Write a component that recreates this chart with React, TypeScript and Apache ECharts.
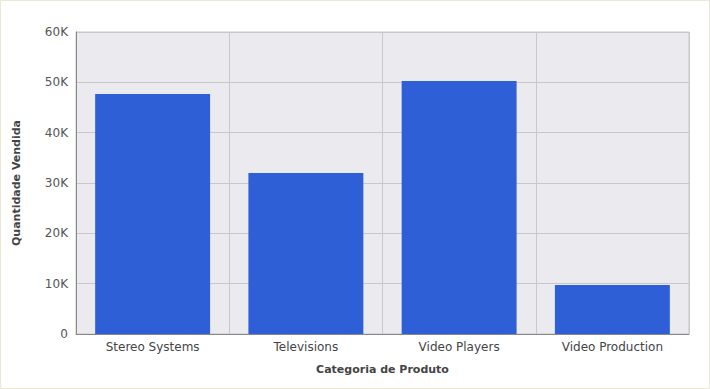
import React, { useEffect, useRef } from "react";
import * as echarts from "echarts";

const categories = ["Stereo Systems", "Televisions", "Video Players", "Video Production"];
const quantities = [47700, 32000, 50250, 9750];
const yTicks = { min: 0, max: 60000, interval: 10000 };
const xTitle = "Categoria de Produto";
const yTitle = "Quantidade Vendida";

const FONT = "'DejaVu Sans', Verdana, sans-serif";

export default function App() {
  const ref = useRef<HTMLDivElement>(null);
  useEffect(() => {
    if (!ref.current) return;
    const chart = echarts.init(ref.current, null, { renderer: "svg" });
    chart.setOption({
      animation: false,
      backgroundColor: "#ffffff",
      textStyle: { fontFamily: FONT },
      grid: {
        left: 76,
        right: 21,
        top: 32,
        bottom: 55,
        containLabel: false,
        outerBoundsMode: "none",
        show: true,
        backgroundColor: "#eaeaef",
        borderColor: "#c8c8c8",
        borderWidth: 1,
      },
      graphic: [
        {
          type: "rect",
          shape: { x: 0.5, y: 0.5, width: 709, height: 388 },
          style: { fill: "none", stroke: "#ebe8d6", lineWidth: 1 },
          silent: true,
          z: 100,
        },
      ],
      xAxis: {
        type: "category",
        data: categories,
        name: xTitle,
        nameLocation: "middle",
        nameGap: 30,
        nameTextStyle: { fontFamily: FONT, fontSize: 11, fontWeight: "bold", color: "#444444" },
        axisLine: { show: true, lineStyle: { color: "#888888", width: 1 } },
        axisTick: { show: false },
        axisLabel: { fontFamily: FONT, fontSize: 12, color: "#444444", margin: 7 },
        splitLine: { show: true, lineStyle: { color: "#c8c8c8", width: 1 } },
      },
      yAxis: {
        type: "value",
        min: yTicks.min,
        max: yTicks.max,
        interval: yTicks.interval,
        name: yTitle,
        nameLocation: "middle",
        nameGap: 54,
        nameTextStyle: { fontFamily: FONT, fontSize: 11, fontWeight: "bold", color: "#444444" },
        axisLine: { show: true, lineStyle: { color: "#888888", width: 1 } },
        axisTick: { show: false },
        axisLabel: {
          fontFamily: FONT,
          fontSize: 12,
          color: "#555555",
          margin: 8,
          formatter: (v: number) => (v === 0 ? "0" : v / 1000 + "K"),
        },
        splitLine: { show: true, lineStyle: { color: "#c8c8c8", width: 1 } },
      },
      series: [
        {
          type: "bar",
          data: quantities,
          barWidth: "75%",
          itemStyle: { color: "#2f5fd6" },
        },
      ],
    });
    return () => chart.dispose();
  }, []);
  return (
    <div
      ref={ref}
      style={{ position: "fixed", left: 0, top: 0, width: 710, height: 389 }}
    />
  );
}
